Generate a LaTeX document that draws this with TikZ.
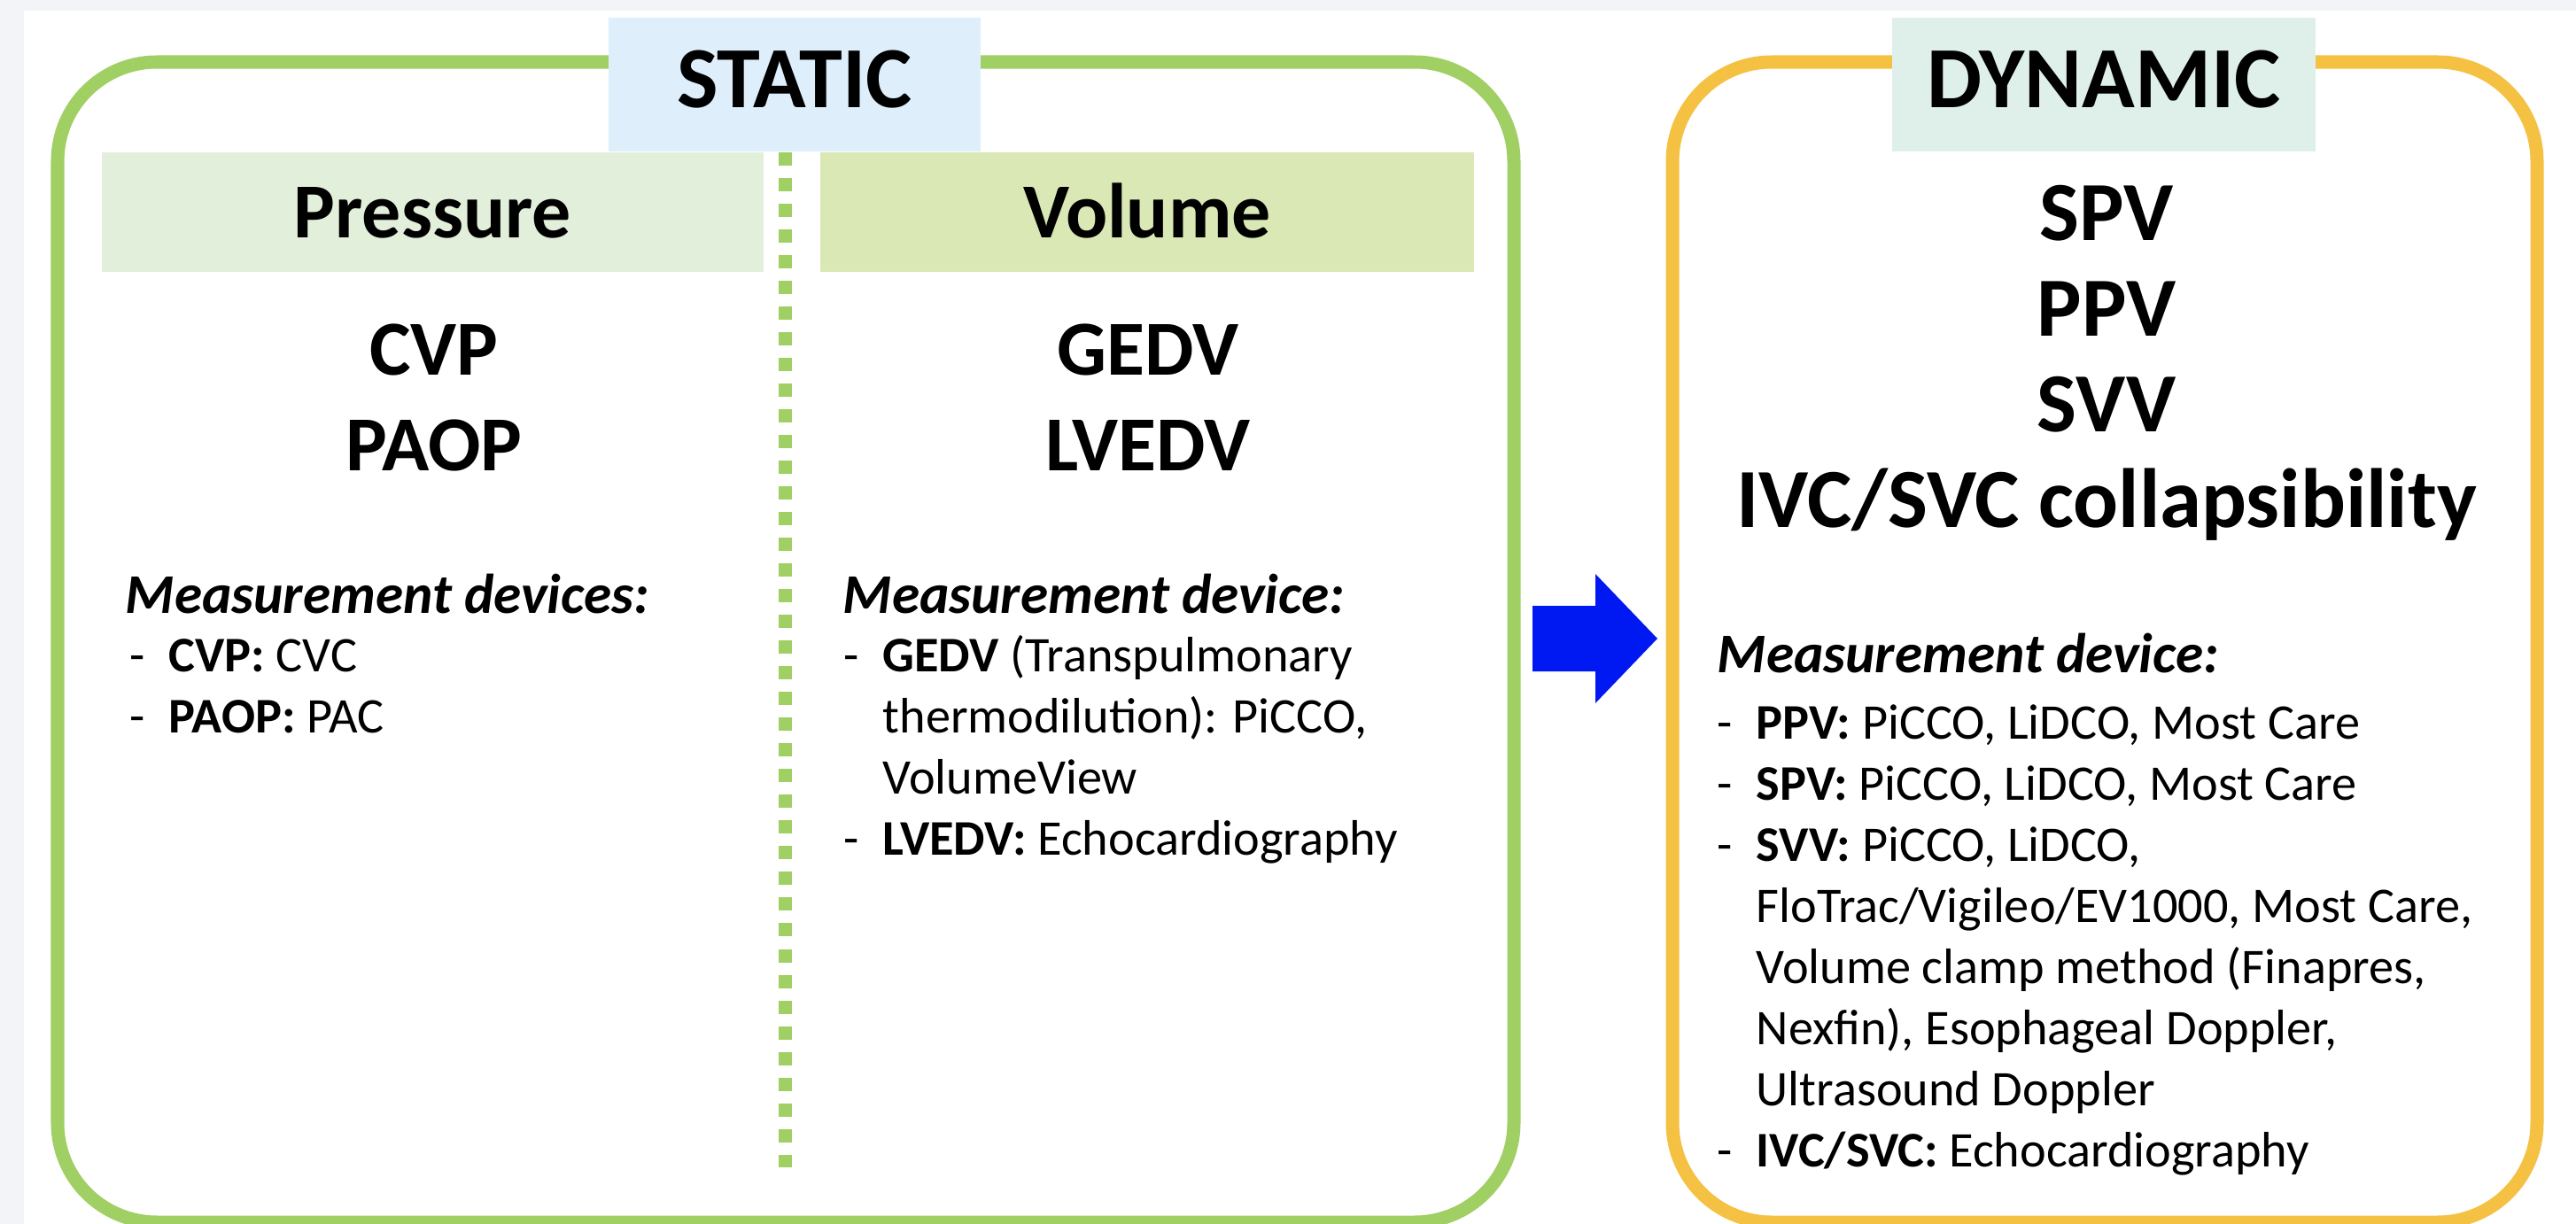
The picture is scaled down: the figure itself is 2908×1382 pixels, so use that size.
\documentclass[tikz,border=0pt]{standalone}
\usepackage{fontspec}
\setmainfont{Carlito}

\definecolor{pagegray}{HTML}{F3F4F8}
\definecolor{framegreen}{HTML}{A0CF63}
\definecolor{frameorange}{HTML}{F4C143}
\definecolor{staticblue}{HTML}{DEEEFB}
\definecolor{dynamicteal}{HTML}{DFF0EB}
\definecolor{pressurefill}{HTML}{E2EFDA}
\definecolor{volumefill}{HTML}{DAE8B6}
\definecolor{arrowblue}{HTML}{0019F2}

\tikzset{
  frame/.style={line width=0.15cm, rounded corners=1.12cm},
  titlebox/.style={inner sep=0pt, minimum height=1.51cm, font=\fontsize{28}{34}\selectfont\bfseries, text height=0.63cm, text depth=0.12cm},
  headbox/.style={inner sep=0pt, minimum height=1.35cm, font=\fontsize{25}{30}\selectfont\bfseries, text height=0.57cm, text depth=0cm},
  bigitems/.style={anchor=base, align=center, inner sep=0pt, font=\fontsize{25}{30.7}\selectfont\bfseries},
  devhead/.style={anchor=base west, inner sep=0pt, font=\fontsize{18}{22}\selectfont\bfseries\itshape},
  devlist/.style={anchor=base west, align=left, inner sep=0pt, font=\fontsize{16}{19.6}\selectfont},
}
\newcommand{\dashitem}{\makebox[12.5pt][l]{-}}
\newcommand{\wrapitem}{\hspace*{12.5pt}}

\begin{document}
\begin{tikzpicture}[x=0.01cm, y=-0.01cm]
\useasboundingbox (0,0) rectangle (2908,1382);
\fill[pagegray] (0,0) rectangle (2908,1382);
\fill[white] (27,12) rectangle (2908,1382);

\draw[frame, framegreen] (65,70) rectangle (1709,1380);
\draw[frame, frameorange] (1888,70) rectangle (2864,1380);

\node[titlebox, fill=staticblue, minimum width=4.2cm] (static) at (897,95.5) {STATIC};
\node[titlebox, fill=dynamicteal, minimum width=4.78cm] (dynamic) at (2375,95.5) {DYNAMIC};

\node[headbox, fill=pressurefill, minimum width=7.47cm] (pressure) at (488.5,239.5) {Pressure};
\node[headbox, fill=volumefill, minimum width=7.38cm] (volume) at (1295,239.5) {Volume};
\draw[framegreen, line width=0.15cm, dash pattern=on 0.15cm off 0.14cm] (886,172) -- (886,1318);

% anchor base = last line
\node[bigitems] (pressvals) at (490,531) {CVP\\PAOP};
\node[bigitems] (volvals) at (1296,531) {GEDV\\LVEDV};
\node[bigitems, font=\fontsize{27}{30.7}\selectfont\bfseries] (dynvals) at (2378,595) {SPV\\PPV\\SVV\\IVC/SVC collapsibility};

\node[devhead] (pressdev) at (141,692) {Measurement devices:};
\node[devlist] (presslist) at (146,827) {\dashitem\textbf{CVP:} CVC\\
  \dashitem\textbf{PAOP:} PAC};

\node[devhead] (voldev) at (951,692) {Measurement device:};
\node[devlist] (vollist) at (952,965) {\dashitem\textbf{GEDV} (Transpulmonary\\
  \wrapitem thermodilution): PiCCO,\\
  \wrapitem VolumeView\\
  \dashitem\textbf{LVEDV:} Echocardiography};

\node[devhead] (dyndev) at (1938,759) {Measurement device:};
\node[devlist] (dynlist) at (1938,1317) {\dashitem\textbf{PPV:} PiCCO, LiDCO, Most Care\\
  \dashitem\textbf{SPV:} PiCCO, LiDCO, Most Care\\
  \dashitem\textbf{SVV:} PiCCO, LiDCO,\\
  \wrapitem FloTrac/Vigileo/EV1000, Most Care,\\
  \wrapitem Volume clamp method (Finapres,\\
  \wrapitem Nexfin), Esophageal Doppler,\\
  \wrapitem Ultrasound Doppler\\
  \dashitem\textbf{IVC/SVC:} Echocardiography};

\fill[arrowblue] (1730,684) -- (1801,684) -- (1801,648) -- (1871,721) -- (1801,794) -- (1801,758) -- (1730,758) -- cycle;
\end{tikzpicture}
\end{document}
